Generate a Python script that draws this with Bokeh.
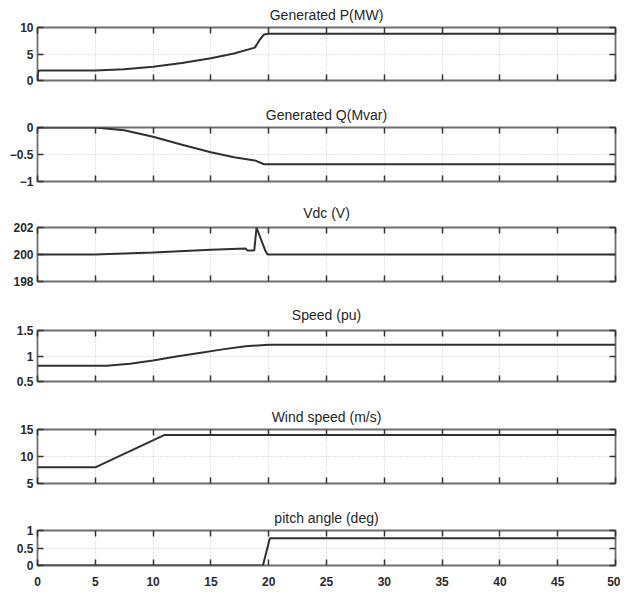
from bokeh.plotting import figure
from bokeh.layouts import column
from bokeh.models import LinearAxis, FixedTicker, Range1d
from bokeh.embed import file_html
from bokeh.resources import INLINE

# ---- data ----
x_ticks = [0, 5, 10, 15, 20, 25, 30, 35, 40, 45, 50]

p_t = [0, 0.05, 0.1, 5, 7.5, 10, 12.5, 15, 17, 18.8, 19.2, 19.6, 20, 50]
p_v = [0, 1.5, 1.9, 1.9, 2.1, 2.6, 3.3, 4.2, 5.1, 6.2, 7.6, 8.7, 8.8, 8.8]

q_t = [0, 5, 7.5, 10, 12.5, 15, 17, 18.8, 19.6, 20, 50]
q_v = [0, 0, -0.05, -0.17, -0.32, -0.46, -0.55, -0.61, -0.68, -0.68, -0.68]

v_t = [0, 5, 10, 15, 18.0, 18.15, 18.75, 18.95, 19.3, 19.7, 19.9, 50]
v_v = [200, 200, 200.15, 200.35, 200.45, 200.3, 200.3, 202, 201.2, 200.3, 200, 200]

s_t = [0, 6, 8, 10, 12, 14, 16, 18, 20, 50]
s_v = [0.81, 0.81, 0.85, 0.91, 0.99, 1.06, 1.13, 1.19, 1.22, 1.22]

w_t = [0, 5, 11, 50]
w_v = [8, 8, 14, 14]

pa_t = [0, 19.5, 20.1, 50]
pa_v = [0, 0, 0.78, 0.78]

panels = [
    ("Generated P(MW)", p_t, p_v, (0, 10), [0, 5, 10]),
    ("Generated Q(Mvar)", q_t, q_v, (-1, 0), [-1, -0.5, 0]),
    ("Vdc (V)", v_t, v_v, (198, 202), [198, 200, 202]),
    ("Speed (pu)", s_t, s_v, (0.5, 1.5), [0.5, 1, 1.5]),
    ("Wind speed (m/s)", w_t, w_v, (5, 15), [5, 10, 15]),
    ("pitch angle (deg)", pa_t, pa_v, (0, 1), [0, 0.5, 1]),
]

# layout: (height, border_top, border_bottom, title_standoff)
geom = [(98, 27, 18, 9), (96, 29, 13, 10), (101, 33, 14, 14),
        (105, 35, 19, 16), (101, 29, 18, 10), (92, 29, 28, 10)]

FONT = "Liberation Sans"
figs = []
for i, ((title, t, v, yr, yt), (h, bt, bb, so)) in enumerate(zip(panels, geom)):
    last = i == len(panels) - 1
    p = figure(width=620, height=h, output_backend="svg", toolbar_location=None,
               x_range=Range1d(0, 50), y_range=Range1d(*yr),
               min_border_left=37, min_border_right=5,
               min_border_top=bt, min_border_bottom=bb,
               background_fill_color="white", border_fill_color="white")
    p.title.text = title
    p.title.align = "center"
    p.title.text_font = FONT
    p.title.text_font_size = "14px"
    p.title.text_font_style = "normal"
    p.title.text_color = "#262626"
    p.title.standoff = so
    p.outline_line_color = "#6e6e6e"
    p.outline_line_width = 1.8

    p.line(t, v, line_color="#303030", line_width=2)

    # mirrored axes (MATLAB-style box ticks)
    p.add_layout(LinearAxis(), "right")
    p.add_layout(LinearAxis(), "above")

    for ax in p.xaxis:
        ax.ticker = FixedTicker(ticks=x_ticks)
    for ax in p.yaxis:
        ax.ticker = FixedTicker(ticks=yt)
    for ax in p.axis:
        ax.axis_line_color = None
        ax.major_tick_in = 6
        ax.major_tick_out = 0
        ax.major_tick_line_color = "#333333"
        ax.major_tick_line_width = 1.5
        ax.minor_tick_line_color = None
        ax.major_label_text_font = FONT
        ax.major_label_text_font_size = "12px"
        ax.major_label_text_font_style = "bold"
        ax.major_label_text_color = "#2a2a2a"
        ax.major_label_standoff = 4
    hidden = [p.right[0], p.above[0]]
    if not last:
        hidden.append(p.below[0])
    else:
        p.below[0].major_label_standoff = 11
    for ax in hidden:
        ticks = ax.ticker.ticks
        ax.major_label_overrides = {tk: "" for tk in ticks}
        ax.major_label_text_font_size = "1px"
        ax.major_label_standoff = 0

    p.xgrid.ticker = FixedTicker(ticks=x_ticks)
    p.ygrid.ticker = FixedTicker(ticks=yt)
    p.grid.grid_line_color = "#c8c8c8"
    p.grid.grid_line_dash = "1 2"
    p.grid.grid_line_width = 1
    figs.append(p)

layout = column(*figs, spacing=0)
open("out.html", "w").write(file_html(layout, INLINE))
